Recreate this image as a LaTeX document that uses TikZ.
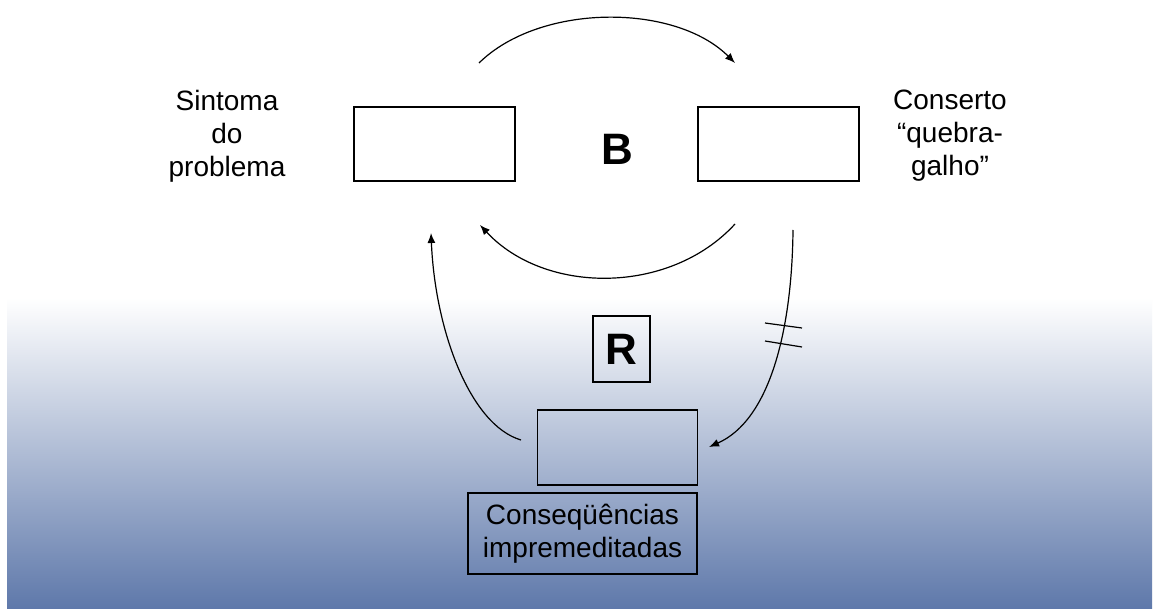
\documentclass[tikz,border=0pt]{standalone}
\usepackage{fontspec}
\setmainfont{Liberation Sans}
\usetikzlibrary{arrows.meta}
\definecolor{gradbot}{RGB}{94,120,170}
\tikzset{
  box/.style={draw=black, line width=1.3pt, inner sep=0pt, minimum width=#1},
  lbl/.style={align=center, font=\fontsize{28}{33}\selectfont, inner sep=0pt},
  big/.style={font=\fontsize{44}{44}\selectfont\bfseries, inner sep=0pt},
  conn/.style={line width=1.2pt, -{Latex[length=10pt,width=8pt]}},
  plain/.style={line width=1.2pt}
}
\begin{document}
\begin{tikzpicture}[x=1pt,y=-1pt]
\useasboundingbox (0,0) rectangle (1159,609);
\fill[white] (0,0) rectangle (1159,609);
\shade[top color=white, bottom color=gradbot] (7,298) rectangle (1152,609);

\node[box=161pt, minimum height=74pt, fill=white] (sym) at (434.5,144) {};
\node[box=161pt, minimum height=74pt, fill=white] (fix) at (778.5,144) {};
\node[box=160pt, minimum height=75pt] (cons) at (617.5,447.5) {};
\node[box=229pt, minimum height=81pt, lbl] (conslbl) at (582.5,533.5) {Conseqüências\\impremeditadas};
\node[box=57pt, minimum height=66pt, big] (R) at (621.5,349) {R};
\node[big] (B) at (617,149) {B};

\node[lbl] (symlbl) at (227,136) {Sintoma\\do\\problema};
\node[lbl] (fixlbl) at (950,136) {Conserto\\“quebra-\\galho”};

\coordinate (t1) at (479,63);
\coordinate (t2) at (735,63);
\coordinate (b1) at (735,224);
\coordinate (b2) at (480,225);
\coordinate (l1) at (521,440);
\coordinate (l2) at (431,233);
\coordinate (r1) at (793,230);
\coordinate (r2) at (709,447);

\draw[conn] (t1) .. controls (540,3) and (675,3) .. (t2);
\draw[conn] (b1) .. controls (670,295) and (545,295) .. (b2);
\draw[conn] (l1) .. controls (470,425) and (435,330) .. (l2);
\draw[conn] (r1) .. controls (792,330) and (770,420) .. (r2);

\coordinate (h1a) at (765,323); \coordinate (h1b) at (802,328);
\coordinate (h2a) at (765,341); \coordinate (h2b) at (802,347);
\draw[plain] (h1a) -- (h1b);
\draw[plain] (h2a) -- (h2b);
\end{tikzpicture}
\end{document}
